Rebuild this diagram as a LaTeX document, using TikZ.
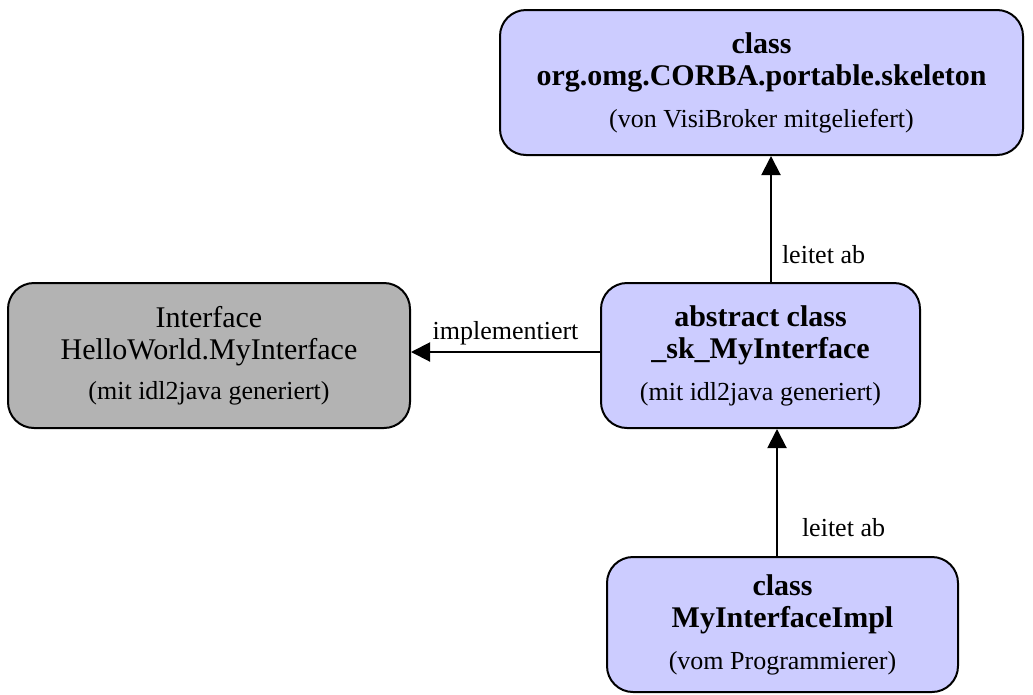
\documentclass[tikz,border=0pt]{standalone}
\usepackage{fontspec}
\setmainfont{Liberation Serif}
\usetikzlibrary{arrows.meta}
\definecolor{boxblue}{HTML}{CCCCFF}
\definecolor{boxgray}{HTML}{B3B3B3}
\tikzset{
  box/.style={draw=black, line width=2pt, rounded corners=26pt, fill=boxblue,
    align=center, inner sep=0pt, font=\fontsize{30}{32}\selectfont},
  graybox/.style={box, fill=boxgray},
  arr/.style={line width=2pt, -{Triangle[length=19pt,width=19pt]}},
  lbl/.style={font=\fontsize{26}{28}\selectfont, inner sep=0pt},
}
\newcommand{\subt}[1]{{\fontsize{26}{28}\selectfont #1}}
\begin{document}
\begin{tikzpicture}[x=1pt,y=1pt]
\useasboundingbox (0,0) rectangle (1033,-694);
\node[box, minimum width=523pt, minimum height=145pt] (sk) at (761.5,-82.5)
  {\textbf{class}\\\textbf{org.omg.CORBA.portable.skeleton}\\[10pt]\subt{(von VisiBroker mitgeliefert)}};
\node[graybox, minimum width=402pt, minimum height=145pt] (iface) at (209,-355.5)
  {Interface\\HelloWorld.MyInterface\\[8pt]\subt{(mit idl2java generiert)}};
\node[box, minimum width=319pt, minimum height=145pt] (mid) at (760.5,-355.5)
  {\textbf{abstract class}\\\textbf{\_sk\_MyInterface}\\[10pt]\subt{(mit idl2java generiert)}};
\node[box, minimum width=351pt, minimum height=135pt] (impl) at (782.5,-624.5)
  {\textbf{class}\\\textbf{MyInterfaceImpl}\\[10pt]\subt{(vom Programmierer)}};
\draw[arr] ([xshift=10.5pt]mid.north) -- ([xshift=9.5pt]sk.south)
  node[lbl, pos=0.22, right=10pt] (l1) {leitet ab};
\draw[arr] ([yshift=3.5pt]mid.west) -- ([yshift=3.5pt]iface.east)
  node[lbl, midway, above=6pt] (l2) {implementiert};
\draw[arr] ([xshift=-5.5pt]impl.north) -- ([xshift=16.5pt]mid.south)
  node[lbl, pos=0.22, right=24pt] (l3) {leitet ab};
\end{tikzpicture}
\end{document}
